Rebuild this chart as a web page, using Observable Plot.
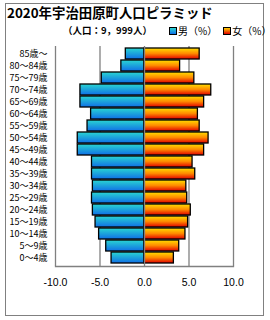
<!DOCTYPE html>
<html><head><meta charset="utf-8">
<script src="https://cdn.jsdelivr.net/npm/d3@7"></script>
<script src="https://cdn.jsdelivr.net/npm/@observablehq/plot@0.6"></script>
<style>
body{margin:0;background:#fff;}
#wrap{position:relative;width:270px;height:320px;font-family:"Noto Sans CJK JP",sans-serif;}
#box{position:absolute;left:5px;top:3px;width:257px;height:311px;border:1.5px solid #808080;}
#title{position:absolute;left:7px;top:4px;font-size:13.4px;font-weight:bold;white-space:nowrap;line-height:17px;}
#sub{position:absolute;left:63px;top:24px;font-size:9.5px;font-weight:bold;white-space:nowrap;line-height:12px;}
#legend{position:absolute;left:169px;top:24px;font-size:10px;white-space:nowrap;line-height:14px;}
.sw{display:inline-block;width:6px;height:6px;border:1px solid #000;margin-right:1px;vertical-align:0px;}
#plot{position:absolute;left:0;top:0;}
</style></head>
<body>
<div id="wrap">
<div id="box"></div>
<div id="title"></div>
<div id="sub"></div>
<div id="legend"></div>
<div id="plot"></div>
</div>
<script>
const titleText = "2020年宇治田原町人口ピラミッド";
const subText = "（人口：9，999人）";
const seriesNames = ["男（%）", "女（%）"];
const ageGroups = ["85歳～","80～84歳","75～79歳","70～74歳","65～69歳","60～64歳","55～59歳","50～54歳","45～49歳","40～44歳","35～39歳","30～34歳","25～29歳","20～24歳","15～19歳","10～14歳","5～9歳","0～4歳"];
const male =   [2.1, 2.6, 4.8, 7.2, 7.2, 6.0, 6.4, 7.5, 7.5, 5.9, 5.9, 5.8, 5.9, 5.8, 5.5, 5.1, 4.3, 3.7];
const female = [6.2, 4.0, 5.6, 7.5, 6.7, 6.0, 6.2, 7.2, 6.7, 5.4, 5.7, 4.7, 4.8, 5.2, 4.9, 4.6, 3.9, 3.3];
const xTicks = [-10, -5, 0, 5, 10];

document.getElementById("title").textContent = titleText;
document.getElementById("sub").textContent = subText;
const leg = document.getElementById("legend");
leg.innerHTML = `<span class="sw" style="background:linear-gradient(#2ad6d2,#0f6fe6)"></span>${seriesNames[0]}<span style="display:inline-block;width:6px"></span><span class="sw" style="background:linear-gradient(#ffd000,#e00000)"></span>${seriesNames[1]}`;

const rows = ageGroups.map((a, i) => ({age: a, m: male[i], f: female[i]}));

const chart = Plot.plot({
  width: 270, height: 320,
  marginTop: 46, marginBottom: 54, marginLeft: 55, marginRight: 37,
  style: {fontFamily: "'Noto Sans CJK JP', sans-serif", background: "transparent"},
  x: {domain: [-10, 10]},
  y: {domain: ageGroups, padding: 0.08},
  marks: [
    Plot.ruleX([-10, -5, 5, 10], {stroke: "#808080", strokeWidth: 1.3, strokeOpacity: 1}),
    Plot.frame({anchor: "bottom", stroke: "#808080", strokeWidth: 1.3}),
    Plot.barX(rows, {y: "age", x1: 0, x2: d => -d.m, fill: "url(#gradM)", stroke: "#000", strokeWidth: 1.3}),
    Plot.barX(rows, {y: "age", x1: 0, x2: "f", fill: "url(#gradF)", stroke: "#000", strokeWidth: 1.3}),
    Plot.ruleX([0], {stroke: "#808080", strokeWidth: 1.3}),
    Plot.axisY({tickSize: 0, tickPadding: 8, fontSize: 9, label: null, fill: "#000"}),
    Plot.axisX({ticks: xTicks, tickSize: 0, tickPadding: 12, tickFormat: d => (d < 0 ? "-" : "") + Math.abs(d).toFixed(1), fontSize: 10.5, fontFamily: "'Liberation Sans', Arial, sans-serif", label: null, fill: "#000"})
  ]
});

const svg = d3.select(chart.tagName.toLowerCase() === "svg" ? chart : chart.querySelector("svg"));
const defs = svg.insert("defs", ":first-child");
const gm = defs.append("linearGradient").attr("id", "gradM").attr("x1", 0).attr("y1", 0).attr("x2", 0).attr("y2", 1);
gm.append("stop").attr("offset", "0%").attr("stop-color", "#2ad6d2");
gm.append("stop").attr("offset", "100%").attr("stop-color", "#0f6fe6");
const gf = defs.append("linearGradient").attr("id", "gradF").attr("x1", 0).attr("y1", 0).attr("x2", 0).attr("y2", 1);
gf.append("stop").attr("offset", "0%").attr("stop-color", "#ffe000");
gf.append("stop").attr("offset", "50%").attr("stop-color", "#ff8a00");
gf.append("stop").attr("offset", "100%").attr("stop-color", "#e00000");

document.getElementById("plot").appendChild(chart);
</script>
</body></html>
